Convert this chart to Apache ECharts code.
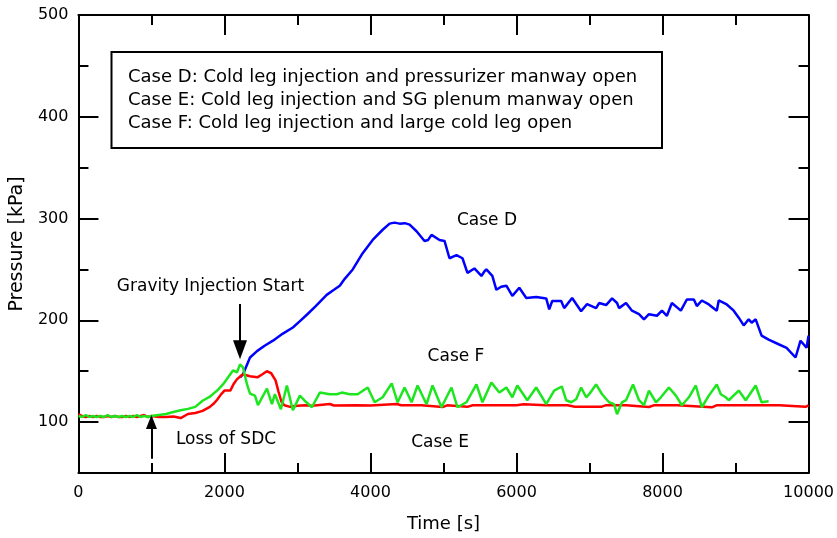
<!DOCTYPE html>
<html>
<head>
<meta charset="utf-8">
<script src="https://cdn.jsdelivr.net/npm/echarts@6/dist/echarts.min.js"></script>
<style>
html,body{margin:0;padding:0;background:#fff;}
#c{width:837px;height:538px;}
</style>
</head>
<body>
<div id="c"></div>
<script>
// ---- data ----
var caseDTime = [2213,2254,2350,2450,2550,2664,2800,2937,3030,3128,3250,3400,3500,3579,3650,3757,3893,4030,4167,4262,4330,4399,4470,4536,4631,4740,4790,4836,4945,5014,5082,5178,5260,5328,5423,5519,5560,5587,5669,5724,5790,5861,5943,6038,6134,6270,6407,6448,6489,6612,6653,6762,6885,6967,7090,7131,7227,7309,7377,7404,7500,7582,7678,7746,7814,7923,7992,8060,8128,8251,8333,8429,8470,8538,8634,8743,8770,8880,8975,9044,9112,9180,9221,9276,9357,9453,9590,9699,9822,9890,9973,10000];
var caseDPressure = [144,147,163.5,170,175,180,187,193,199,205.5,214,225,230,234,241,250,266,279,289,295,296,295,295.5,294,287.5,278,279,284,279,278,261,264,261,246.6,251,243.6,248,250,243.6,230,233,234,224,232,222,223,221.5,210.7,219,219,212,222,209,216,212,217,215,221.5,217,212,217,209.5,206,201,206,204.5,209.5,204.5,217,209.5,220.5,220.5,214,219.5,215.6,209.5,219.5,215.6,209.5,202.6,195,201,197.7,201,185,181,176.5,173,163.5,180,173,185];

var caseETime = [0,50,100,150,200,250,300,350,400,450,500,550,600,650,700,750,800,850,900,950,1000,1100,1200,1300,1400,1500,1600,1700,1800,1850,1900,1950,2000,2080,2130,2170,2250,2350,2450,2520,2580,2640,2700,2740,2780,2820,2900,3000,3100,3200,3443,3500,3800,4000,4360,4420,4700,4986,5050,5328,5400,5700,6000,6100,6400,6700,6800,7158,7220,7500,7814,7880,8200,8675,8740,9000,9300,9600,9959,10000];
var caseEPressure = [108,106,105,106,105,106,105,105,106,105,106,105,105,106,105,106,105,106,107,105,106,105,105,105.5,104,108,109,111,115,118,122,127,131,131,138,142,147,145,144,147,150,148,141,130,120,116.6,115,116,116.6,116,117.8,116.3,116.6,116.3,117.8,116.5,116.5,114.8,116.5,115,116.5,116.5,116.6,117.6,116.5,116.5,115,115,116.5,116.5,114.8,116.5,116.5,114.5,116.5,116.5,116.5,116.5,115,116.5];

var caseFTime = [0,50,100,150,200,250,300,350,400,450,500,550,600,650,700,750,800,850,900,950,1000,1100,1200,1300,1400,1500,1600,1700,1800,1850,1900,1980,2050,2117,2172,2213,2254,2309,2350,2418,2459,2582,2650,2691,2773,2855,2937,3033,3115,3197,3306,3443,3538,3607,3716,3825,3962,4057,4167,4290,4372,4467,4563,4645,4768,4850,4973,5041,5109,5191,5314,5451,5533,5656,5765,5861,5943,6011,6148,6270,6407,6516,6620,6680,6749,6817,6885,6954,6995,7090,7172,7268,7336,7377,7445,7500,7596,7678,7746,7814,7910,7978,8087,8183,8265,8361,8456,8538,8634,8743,8798,8866,8907,9044,9139,9276,9357,9453];
var caseFPressure = [106,105,107,105,106,105,106,105,107,105,106,105,106,105,106,105,107,105,106,105,106,107,108,110,111.7,113,115,121,125,128,131,137,144,150.8,149,156.7,153.7,137,128,126,116.6,133,117.6,127.4,112.7,136,111.7,126,120,114.6,129,127.4,127.4,129,127.4,127.4,134,119.5,124.4,138,119.5,134,119.5,136,117.6,136,114.6,124.4,134,114.6,119.5,137,119.5,139,129,134,124.4,136,121.5,134,117.6,131,135,121.5,119.5,122.5,134,124.4,127.4,137,127.4,119.5,117.6,107.8,119.5,121.5,137,121.5,116.6,131,119.5,124.4,134,126,116.6,124.4,136,114.6,126,137,127.4,124.4,121.5,131,121.5,136,119.5,120.5];

var yMajorTicks = [100,200,300,400,500];
var yMinorTicks = [150,250,350,450];
var legendLines = [
  'Case D: Cold leg injection and pressurizer manway open',
  'Case E: Cold leg injection and SG plenum manway open',
  'Case F: Cold leg injection and large cold leg open'
];

function pairs(t, v){ return t.map(function(x,i){ return [x, v[i]]; }); }

var FONT = 'DejaVu Sans';
var chart = echarts.init(document.getElementById('c'), null, {renderer:'canvas'});

function yAx(pos, ticks, len, showLine, showLabel){
  return {
    type:'value', position:pos, min:50, max:500,
    axisLine:{show:showLine, onZero:false, lineStyle:{color:'#000', width:2}},
    axisTick:{show:true, inside:true, length:len, customValues:ticks, lineStyle:{color:'#000', width:2}},
    axisLabel:{show:showLabel, customValues:yMajorTicks, color:'#000', fontFamily:FONT, fontSize:16, margin:10,
               formatter:function(v){ return String(v); }},
    splitLine:{show:false}
  };
}
var yLeftMajor = yAx('left', yMajorTicks, 20, true, true);
yLeftMajor.name = 'Pressure [kPa]';
yLeftMajor.nameLocation = 'middle';
yLeftMajor.nameGap = 42;
yLeftMajor.nameTextStyle = {color:'#000', fontFamily:FONT, fontSize:19};

function xAx(pos, showLabel){
  return {
    type:'value', position:pos, min:0, max:10000, interval:2000,
    axisLine:{show:true, onZero:false, lineStyle:{color:'#000', width:2}},
    axisTick:{show:true, inside:true, length:20, lineStyle:{color:'#000', width:2}},
    minorTick:{show:true, splitNumber:2, length:10, lineStyle:{color:'#000', width:2}},
    axisLabel:{show:showLabel, color:'#000', fontFamily:FONT, fontSize:16, margin:12,
               formatter:function(v){ return String(v); }},
    splitLine:{show:false}, minorSplitLine:{show:false}
  };
}
var xBottom = xAx('bottom', true);
xBottom.name = 'Time [s]';
xBottom.nameLocation = 'middle';
xBottom.nameGap = 42;
xBottom.nameTextStyle = {color:'#000', fontFamily:FONT, fontSize:18};

var option = {
  animation:false,
  backgroundColor:'#fff',
  grid:{left:78, right:27, top:15, bottom:61.5, containLabel:false},
  xAxis:[xBottom, xAx('top', false)],
  yAxis:[yLeftMajor, yAx('left', yMinorTicks, 10, false, false), yAx('right', yMajorTicks, 20, true, false), yAx('right', yMinorTicks, 10, false, false)],
  series:[
    {name:'Case D', type:'line', data:pairs(caseDTime, caseDPressure), showSymbol:false, symbol:'none',
     lineStyle:{color:'#0000ff', width:2.5}, itemStyle:{color:'#0000ff'}, z:2,
     markPoint:{silent:true, symbol:'triangle', symbolSize:[14,19], symbolRotate:180,
       itemStyle:{color:'#000'}, label:{show:false},
       data:[{coord:[2213,171]}]},
     markLine:{silent:true, symbol:['none','none'], label:{show:false},
       lineStyle:{color:'#000', width:2, type:'solid'},
       data:[[{coord:[2213,216]},{coord:[2213,175]}]]}
    },
    {name:'Case E', type:'line', data:pairs(caseETime, caseEPressure), showSymbol:false, symbol:'none',
     lineStyle:{color:'#ff0000', width:2.5}, itemStyle:{color:'#ff0000'}, z:3,
     markPoint:{silent:true, symbol:'triangle', symbolSize:[11,14],
       itemStyle:{color:'#000'}, label:{show:false},
       data:[{coord:[1000,100]}]},
     markLine:{silent:true, symbol:['none','none'], label:{show:false},
       lineStyle:{color:'#000', width:2, type:'solid'},
       data:[[{coord:[1000,64]},{coord:[1000,98]}]]}
    },
    {name:'Case F', type:'line', data:pairs(caseFTime, caseFPressure), showSymbol:false, symbol:'none',
     lineStyle:{color:'#1ee61e', width:2.5}, itemStyle:{color:'#1ee61e'}, z:4}
  ],
  graphic:[
    {type:'rect', shape:{x:111.5, y:52, width:550.5, height:96}, style:{fill:'#fff', stroke:'#000', lineWidth:2}, z:10},
    {type:'text', x:128, y:77, style:{text:legendLines[0], fill:'#000', font:'18px "DejaVu Sans"', textAlign:'left', textVerticalAlign:'middle'}, z:11},
    {type:'text', x:128, y:100, style:{text:legendLines[1], fill:'#000', font:'18px "DejaVu Sans"', textAlign:'left', textVerticalAlign:'middle'}, z:11},
    {type:'text', x:128, y:123, style:{text:legendLines[2], fill:'#000', font:'18px "DejaVu Sans"', textAlign:'left', textVerticalAlign:'middle'}, z:11},
    {type:'text', x:487, y:221, style:{text:'Case D', fill:'#000', font:'17px "DejaVu Sans"', textAlign:'center', textVerticalAlign:'middle'}, z:11},
    {type:'text', x:456, y:357, style:{text:'Case F', fill:'#000', font:'17px "DejaVu Sans"', textAlign:'center', textVerticalAlign:'middle'}, z:11},
    {type:'text', x:440, y:443, style:{text:'Case E', fill:'#000', font:'17px "DejaVu Sans"', textAlign:'center', textVerticalAlign:'middle'}, z:11},
    {type:'text', x:210.5, y:287, style:{text:'Gravity Injection Start', fill:'#000', font:'17px "DejaVu Sans"', textAlign:'center', textVerticalAlign:'middle'}, z:11},
    {type:'text', x:226, y:440, style:{text:'Loss of SDC', fill:'#000', font:'17px "DejaVu Sans"', textAlign:'center', textVerticalAlign:'middle'}, z:11}
  ]
};
chart.setOption(option);
</script>
</body>
</html>
